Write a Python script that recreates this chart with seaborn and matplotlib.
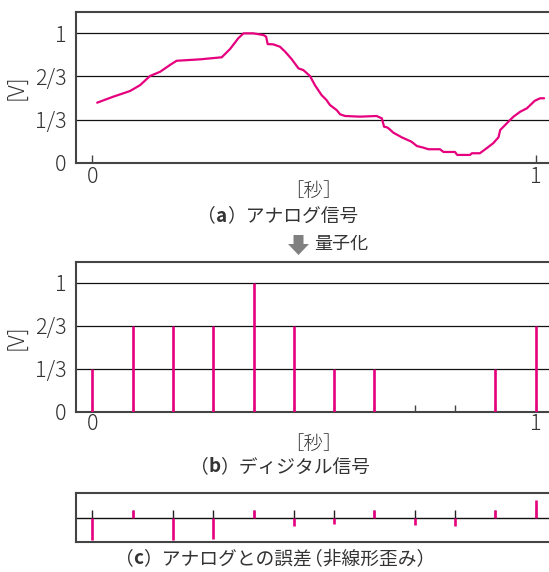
import numpy as np
import pandas as pd
import matplotlib
matplotlib.use("Agg")
import matplotlib.pyplot as plt
from matplotlib.patches import Polygon
import seaborn as sns

# ---------------- data ----------------
analog_t = [0.011, 0.047, 0.085, 0.108, 0.130, 0.153, 0.175, 0.190, 0.243, 0.292,
            0.311, 0.329, 0.341, 0.363, 0.386, 0.392, 0.3955, 0.408, 0.423, 0.435,
            0.450, 0.465, 0.476, 0.491, 0.502, 0.517, 0.528, 0.536, 0.551, 0.559,
            0.570, 0.604, 0.641, 0.653, 0.658, 0.664, 0.668, 0.679, 0.698, 0.720,
            0.732, 0.747, 0.758, 0.784, 0.792, 0.818, 0.823, 0.852, 0.856, 0.874,
            0.889, 0.904, 0.916, 0.920, 0.931, 0.942, 0.950, 0.965, 0.980, 0.998,
            1.010, 1.019]
analog_v = [0.464, 0.510, 0.554, 0.600, 0.670, 0.703, 0.755, 0.788, 0.799, 0.815,
            0.880, 0.961, 1.000, 1.000, 0.987, 0.974, 0.917, 0.915, 0.897, 0.858,
            0.799, 0.729, 0.716, 0.670, 0.600, 0.523, 0.485, 0.446, 0.407, 0.374,
            0.361, 0.356, 0.361, 0.343, 0.278, 0.274, 0.266, 0.232, 0.196, 0.162,
            0.129, 0.116, 0.104, 0.104, 0.083, 0.083, 0.060, 0.060, 0.073, 0.073,
            0.111, 0.150, 0.196, 0.253, 0.291, 0.330, 0.356, 0.394, 0.420, 0.479,
            0.498, 0.498]

sample_t = [i / 11 for i in range(12)]
digital_v = [1/3, 2/3, 2/3, 2/3, 1, 2/3, 1/3, 1/3, 0, 0, 1/3, 2/3]
error_v = [-0.22, 0.073, -0.22, -0.213, 0.073, -0.08, -0.06, 0.073, -0.073, -0.08, 0.073, 0.177]

y_ticks = [0, 1/3, 2/3, 1]
y_labels = ["0", "1/3", "2/3", "1"]
x_labels = {0: "0", 1: "1"}

unit_v = "[V]"
unit_t = "［秒］"
cap_a = [("（", "normal"), ("a", "bold"), ("）アナログ信号", "normal")]
cap_b = [("（", "normal"), ("b", "bold"), ("）ディジタル信号", "normal")]
cap_c = [("（", "normal"), ("c", "bold"), ("）アナログとの誤差", "normal"),
         ("（非線形歪み）", "normal")]
quant_label = "量子化"

# ---------------- style ----------------
sns.set_theme(style="white")
JP = ["Noto Sans CJK JP", "DejaVu Sans"]
plt.rcParams["font.family"] = JP
MAG = "#E6007E"
TXT = "#333333"
SPINE = "#444444"
W, H = 549, 572

fig = plt.figure(figsize=(W / 100, H / 100), dpi=100)

def fx(px):
    return px / W

def fy(py):
    return 1 - py / H

def make_ax(top_px, bottom_px):
    left = 75.5
    ax = fig.add_axes([fx(left), fy(bottom_px), fx(W - left), (bottom_px - top_px) / H])
    for s in ["left", "top", "bottom"]:
        ax.spines[s].set_color(SPINE)
        ax.spines[s].set_linewidth(1.5)
    ax.spines["right"].set_visible(False)
    # x: 0 at 92.3px, 1 at 535.7px
    ppu = 443.4
    ax.set_xlim((left - 92.3) / ppu, (W - 92.3) / ppu)
    return ax

def style_main(ax, xticks, ticklen, pad_x):
    ax.set_ylim(0, 1.165)
    ax.set_yticks(y_ticks)
    ax.set_yticklabels(y_labels)
    ax.yaxis.grid(True, color="#111111", linewidth=0.9)
    ax.xaxis.grid(False)
    ax.tick_params(axis="y", length=0, pad=6.5, labelsize=15.5, labelcolor=TXT)
    ax.set_xticks(xticks)
    ax.set_xticklabels([x_labels.get(round(x, 6), "") for x in xticks])
    ax.tick_params(axis="x", direction="in", length=ticklen, width=1.0, color=SPINE,
                   pad=pad_x, labelsize=15.5, labelcolor=TXT, bottom=True)
    for lab in ax.get_xticklabels() + ax.get_yticklabels():
        lab.set_fontweight("light")
    ax.set_xlabel("")
    ax.set_ylabel("")

# ---- panel a ----
ax_a = make_ax(12, 162.7)
df_a = pd.DataFrame({"t": analog_t, "v": analog_v})
sns.lineplot(data=df_a, x="t", y="v", ax=ax_a, color=MAG, linewidth=1.6, sort=False, zorder=3)
style_main(ax_a, [0, 1], 6, 2.5)

# ---- panel b ----
ax_b = make_ax(261.7, 412)
ax_b.vlines(sample_t, 0, digital_v, color=MAG, linewidth=1.9, zorder=3)
style_main(ax_b, sample_t, 5, 1)

# ---- panel c ----
ax_c = make_ax(492.7, 542.3)
ax_c.set_ylim(-0.245, 0.25)
ax_c.set_yticks([])
ax_c.set_xticks([])
ax_c.axhline(0, color="#111111", linewidth=1.0, zorder=1)
ax_c.vlines(sample_t, 0, 0.073, color="#222222", linewidth=1.0, zorder=2)
ax_c.vlines(sample_t, 0, error_v, color=MAG, linewidth=1.9, zorder=3)

# ---- texts ----
for cy in [(12 + 162.7) / 2, (261.7 + 412) / 2]:
    fig.text(fx(16), fy(cy), unit_v, rotation=90, ha="center", va="center",
             fontsize=15.5, color=TXT, fontweight="light")
for cy in [191, 444]:
    fig.text(fx(313), fy(cy), unit_t, ha="center", va="center", fontsize=14,
             color=TXT, fontweight="light")

renderer = fig.canvas.get_renderer()

def caption(xc, yc, parts, size=13.5, kern=None):
    texts = [fig.text(0, 0, s, fontsize=size, fontweight=w, color=TXT,
                      ha="left", va="center") for s, w in parts]
    widths = [t.get_window_extent(renderer).width for t in texts]
    if kern:
        for i, k in kern.items():
            widths[i] += k
    x = xc - sum(widths) / 2
    for t, wd in zip(texts, widths):
        t.set_position((fx(x), fy(yc)))
        x += wd

caption(278, 216, cap_a)
caption(280, 467, cap_b)
caption(275, 559, cap_c, kern={2: -8})

# arrow + 量子化
arrow = [(293.5, 235), (303.5, 235), (303.5, 244), (309, 244), (298.5, 255),
         (288, 244), (293.5, 244)]
fig.patches.append(Polygon([(fx(x), fy(y)) for x, y in arrow], closed=True,
                           transform=fig.transFigure, facecolor="#808080",
                           edgecolor="none"))
fig.text(fx(314), fy(244), quant_label, ha="left", va="center", fontsize=13, color=TXT)

fig.savefig("out.png", dpi=100)
